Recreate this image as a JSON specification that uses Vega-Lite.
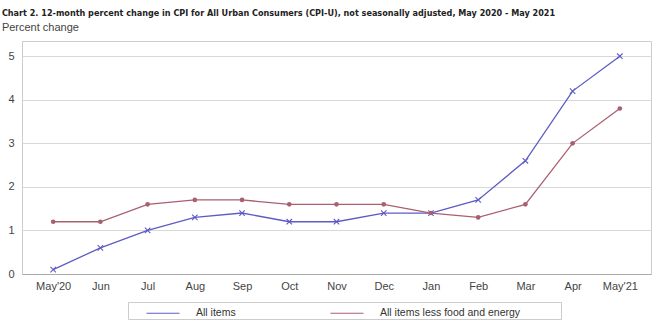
{
  "$schema": "https://vega.github.io/schema/vega-lite/v6.json",
  "width": 629,
  "height": 233,
  "autosize": {"type": "none"},
  "padding": {"left": 22, "top": 41, "right": 6, "bottom": 50},
  "background": "#ffffff",
  "title": {
    "text": "Chart 2. 12-month percent change in CPI for All Urban Consumers (CPI-U), not seasonally adjusted, May 2020 - May 2021",
    "subtitle": "Percent change",
    "anchor": "start",
    "dx": -6,
    "offset": 8,
    "font": "DejaVu Sans Condensed",
    "fontSize": 9,
    "fontWeight": "bold",
    "color": "#222222",
    "subtitleFont": "Liberation Sans, Arial, sans-serif",
    "subtitleFontSize": 11,
    "subtitleColor": "#444444",
    "subtitlePadding": 4
  },
  "data": {
    "values": [
      {"month": "May'20", "series": "All items", "value": 0.1},
      {"month": "Jun", "series": "All items", "value": 0.6},
      {"month": "Jul", "series": "All items", "value": 1.0},
      {"month": "Aug", "series": "All items", "value": 1.3},
      {"month": "Sep", "series": "All items", "value": 1.4},
      {"month": "Oct", "series": "All items", "value": 1.2},
      {"month": "Nov", "series": "All items", "value": 1.2},
      {"month": "Dec", "series": "All items", "value": 1.4},
      {"month": "Jan", "series": "All items", "value": 1.4},
      {"month": "Feb", "series": "All items", "value": 1.7},
      {"month": "Mar", "series": "All items", "value": 2.6},
      {"month": "Apr", "series": "All items", "value": 4.2},
      {"month": "May'21", "series": "All items", "value": 5.0},
      {"month": "May'20", "series": "All items less food and energy", "value": 1.2},
      {"month": "Jun", "series": "All items less food and energy", "value": 1.2},
      {"month": "Jul", "series": "All items less food and energy", "value": 1.6},
      {"month": "Aug", "series": "All items less food and energy", "value": 1.7},
      {"month": "Sep", "series": "All items less food and energy", "value": 1.7},
      {"month": "Oct", "series": "All items less food and energy", "value": 1.6},
      {"month": "Nov", "series": "All items less food and energy", "value": 1.6},
      {"month": "Dec", "series": "All items less food and energy", "value": 1.6},
      {"month": "Jan", "series": "All items less food and energy", "value": 1.4},
      {"month": "Feb", "series": "All items less food and energy", "value": 1.3},
      {"month": "Mar", "series": "All items less food and energy", "value": 1.6},
      {"month": "Apr", "series": "All items less food and energy", "value": 3.0},
      {"month": "May'21", "series": "All items less food and energy", "value": 3.8}
    ]
  },
  "encoding": {
    "x": {
      "field": "month",
      "type": "ordinal",
      "sort": null,
      "scale": {"type": "point", "padding": 0.66},
      "axis": {
        "title": null,
        "labelAngle": 0,
        "ticks": false,
        "domainColor": "#aaaaaa",
        "labelColor": "#444444",
        "labelFont": "Liberation Sans, Arial, sans-serif",
        "labelFontSize": 11,
        "labelPadding": 6
      }
    },
    "y": {
      "field": "value",
      "type": "quantitative",
      "scale": {"domain": [0, 5.35], "nice": false},
      "axis": {
        "title": null,
        "values": [0, 1, 2, 3, 4, 5],
        "ticks": false,
        "domain": false,
        "gridColor": "#d8d8d8",
        "labelColor": "#444444",
        "labelFont": "Liberation Sans, Arial, sans-serif",
        "labelFontSize": 11,
        "labelPadding": 8
      }
    },
    "color": {
      "field": "series",
      "type": "nominal",
      "scale": {"domain": ["All items", "All items less food and energy"], "range": ["#5c5cc4", "#a86070"]},
      "legend": {
        "title": null,
        "orient": "none",
        "legendX": 106,
        "legendY": 261,
        "direction": "horizontal",
        "symbolType": "M-1.65,0H1.65",
        "symbolSize": 400,
        "symbolStrokeWidth": 1.2,
        "symbolOffset": 24,
        "columnPadding": 76,
        "labelFont": "Liberation Sans, Arial, sans-serif",
        "labelFontSize": 10.5,
        "labelColor": "#333333",
        "labelOffset": 22,
        "labelLimit": 300,
        "labelExpr": "datum.label == 'All items' ? datum.label : datum.label + '\u2800\u2800\u2800\u2800\u2800'",
        "strokeColor": "#cccccc",
        "padding": 0,
        "fillColor": "#ffffff"
      }
    }
  },
  "layer": [
    {
      "mark": {"type": "line", "strokeWidth": 1.3}
    },
    {
      "transform": [{"filter": "datum.series === 'All items'"}],
      "mark": {"type": "point", "shape": "M-1,-1L1,1M-1,1L1,-1", "filled": false, "strokeWidth": 1.1, "size": 30, "opacity": 1, "color": "#5c5cc4"}
    },
    {
      "transform": [{"filter": "datum.series !== 'All items'"}],
      "mark": {"type": "circle", "size": 22, "opacity": 1, "color": "#8a3848"}
    }
  ],
  "config": {
    "view": {"stroke": "#cccccc"},
    "axis": {"gridWidth": 1}
  }
}
